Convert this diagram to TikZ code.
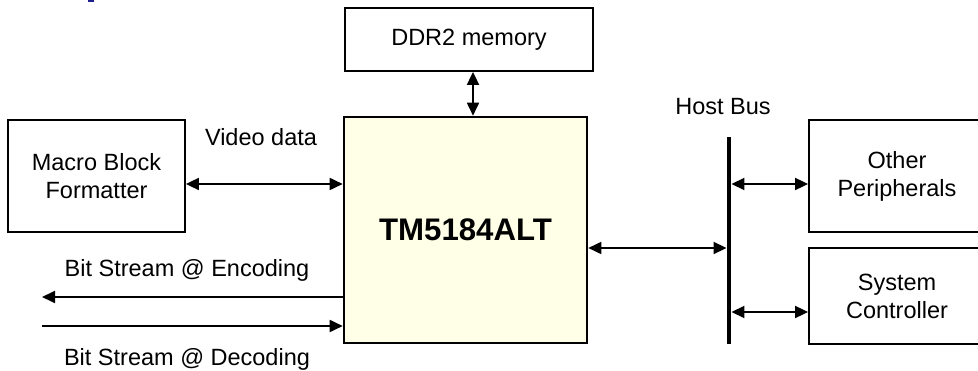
\documentclass[tikz,border=0pt]{standalone}
\usepackage{fontspec}
\setmainfont{Liberation Sans}
\usetikzlibrary{arrows.meta,calc}
\definecolor{chipfill}{RGB}{255,255,232}
\definecolor{titleblue}{RGB}{30,30,140}
\begin{document}
\begin{tikzpicture}[x=1pt,y=-1pt,
  box/.style={draw=black,line width=1.8pt,rectangle,inner sep=0pt,align=center,
    font=\fontsize{23.5}{28}\selectfont},
  lbl/.style={inner sep=0pt,font=\fontsize{23.5}{28}\selectfont},
  dbl/.style={line width=1.8pt,{Triangle[length=13pt,width=12pt]}-{Triangle[length=13pt,width=12pt]}},
  sgl/.style={line width=1.8pt,-{Triangle[length=13pt,width=12pt]}}]
\clip (0,0) rectangle (978,371);
\useasboundingbox (0,0) rectangle (978,371);
\fill[titleblue] (88,0) rectangle (94,2.5);
% boxes
\node[box,minimum width=177pt,minimum height=112pt] (mbf) at (96.5,176) {Macro Block\\Formatter};
\node[box,minimum width=248pt,minimum height=63pt] (ddr) at (469,39.5) {DDR2 memory};
\node[box,line width=2.6pt,fill=chipfill,minimum width=243pt,minimum height=226pt,
  font=\fontsize{31.2}{36}\selectfont\bfseries] (tm) at (465.5,230) {TM5184ALT};
\node[box,minimum width=176pt,minimum height=112pt] (op) at (897,176) {Other\\Peripherals};
\node[box,minimum width=176pt,minimum height=96pt] (sc) at (897,296) {System\\Controller};
\node[fill=black,rectangle,inner sep=0pt,minimum width=4.5pt,minimum height=207pt] (bus) at (729,240.5) {};
% labels
\node[lbl] (vd) at (261,137) {Video data};
\node[lbl] (enc) at (187,270) {Bit Stream @ Encoding};
\node[lbl,anchor=base] (dec) at (187,365.5) {Bit Stream @ Decoding};
\node[lbl] (hb) at (723,107) {Host Bus};
% free ends
\coordinate (encend) at (42,297);
\coordinate (decstart) at (42,326);
% connectors
\draw[dbl] ([xshift=4pt]ddr.south) -- ([xshift=4pt]ddr.south |- tm.north);
\draw[dbl] ([yshift=-8pt]mbf.east) -- ([yshift=-8pt]mbf.east -| tm.west);
\draw[sgl] (encend -| tm.west) -- (encend);
\draw[sgl] (decstart) -- (decstart -| tm.west);
\draw[dbl] ([yshift=-18pt]tm.east) -- ([yshift=-18pt]tm.east -| bus.west);
\draw[dbl] ([yshift=-8pt]op.west -| bus.east) -- ([yshift=-8pt]op.west);
\draw[dbl] ([yshift=-16pt]sc.west -| bus.east) -- ([yshift=-16pt]sc.west);
\end{tikzpicture}
\end{document}
